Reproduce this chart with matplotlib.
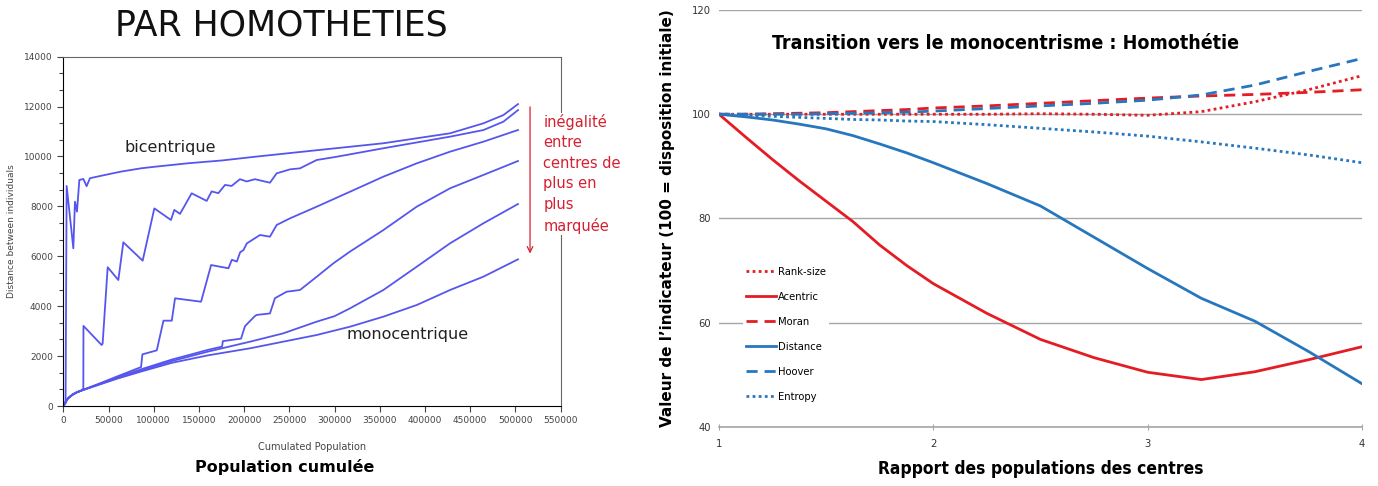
import matplotlib
matplotlib.use("Agg")
import matplotlib.pyplot as plt
from matplotlib.ticker import MultipleLocator, AutoMinorLocator

# ---- left panel: distance between individuals vs cumulated population ----
bi_x = [0, 2500, 3700, 11100, 12900, 15150, 17750, 22200, 25800, 29500, 46100, 64600,
        86700, 101400, 138300, 175200, 212000, 280000, 354000, 427800, 464700, 486800, 503000]
bi_y = [0, 100, 8820, 6320, 8190, 7790, 9060, 9100, 8810, 9130, 9260, 9400,
        9530, 9590, 9730, 9840, 9990, 10250, 10530, 10930, 11330, 11660, 12100]

b_x = [0, 2000, 5000, 10000, 15000, 20000, 22150, 22300, 42400, 43500, 49100, 60900, 66400,
       87800, 100700, 119100, 122800, 129100, 142000, 158600, 164100, 171500, 178900, 186200,
       195400, 202800, 212000, 228600, 236000, 250800, 261800, 280300, 302400, 354000,
       427800, 464700, 486800, 503000]
b_y = [0, 130, 300, 450, 550, 620, 700, 3210, 2445, 2500, 5560, 5050, 6560,
       5825, 7920, 7455, 7860, 7700, 8525, 8220, 8600, 8530, 8860, 8820,
       9090, 9000, 9090, 8950, 9325, 9485, 9525, 9860, 9990, 10330,
       10795, 11060, 11395, 11860]

c_x = [0, 2000, 5000, 10000, 15000, 20000, 40000, 60000, 86000, 87500, 103400, 110800,
       120000, 123600, 152400, 163500, 182700, 186400, 192000, 195600, 199300, 203000,
       217600, 228600, 236000, 250800, 280300, 317200, 354000, 391000, 427800, 464700, 503000]
c_y = [0, 130, 300, 450, 550, 620, 900, 1190, 1560, 2070, 2230, 3420,
       3420, 4316, 4180, 5650, 5520, 5860, 5790, 6160, 6250, 6517,
       6854, 6786, 7254, 7522, 7988, 8589, 9191, 9726, 10193, 10594, 11062]

d_x = [0, 2000, 5000, 10000, 15000, 20000, 40000, 60000, 86000, 120000, 160000, 175600,
       176500, 196600, 201000, 211800, 213900, 228600, 234100, 247000, 261800, 280300,
       298800, 317200, 354000, 391000, 427800, 464700, 503000]
d_y = [0, 130, 300, 450, 550, 620, 885, 1160, 1470, 1860, 2250, 2380,
       2600, 2700, 3200, 3600, 3650, 3710, 4320, 4580, 4650, 5180,
       5720, 6190, 7050, 7990, 8725, 9260, 9820]

e_x = [0, 2000, 5000, 10000, 15000, 20000, 40000, 60000, 86000, 120000, 160000, 206500,
       243300, 280300, 300000, 317200, 354000, 391000, 427800, 464700, 503000]
e_y = [0, 130, 300, 450, 550, 620, 870, 1130, 1420, 1800, 2180, 2577,
       2912, 3380, 3600, 3915, 4649, 5583, 6520, 7323, 8096]

f_x = [0, 2000, 5000, 10000, 15000, 20000, 40000, 60000, 86000, 120000, 160000, 206500,
       280300, 317200, 354000, 391000, 427800, 464700, 503000]
f_y = [0, 130, 300, 450, 550, 620, 860, 1100, 1380, 1730, 2030, 2312,
       2846, 3179, 3580, 4048, 4649, 5183, 5879]

left_series = [(bi_x, bi_y), (b_x, b_y), (c_x, c_y), (d_x, d_y), (e_x, e_y), (f_x, f_y)]

# ---- right panel: indicators vs ratio of centre populations ----
ratio = [1.0, 1.125, 1.25, 1.375, 1.5, 1.625, 1.75, 1.875, 2.0, 2.25, 2.5, 2.75,
         3.0, 3.25, 3.5, 3.75, 4.0]
rank_size = [100, 100, 100, 100, 100, 100, 100, 100, 100, 100, 100.1, 100,
             99.8, 100.5, 102.4, 104.7, 107.4]
acentric = [100, 95.6, 91.3, 87.2, 83.3, 79.4, 74.9, 71.0, 67.5, 61.8, 56.8, 53.3,
            50.5, 49.1, 50.6, 52.9, 55.4]
moran = [100, 100, 100.1, 100.2, 100.3, 100.5, 100.7, 100.9, 101.2, 101.6, 102.1, 102.6,
         103.1, 103.5, 103.8, 104.2, 104.7]
distance = [100, 99.5, 98.9, 98.1, 97.2, 95.9, 94.3, 92.6, 90.7, 86.7, 82.4, 76.4,
            70.4, 64.7, 60.3, 54.5, 48.3]
hoover = [100, 100, 100, 100, 100.1, 100.2, 100.3, 100.4, 100.6, 101.1, 101.6, 102.1,
          102.7, 103.7, 105.6, 108.2, 110.7]
entropy = [100, 99.8, 99.6, 99.4, 99.2, 99.0, 98.9, 98.7, 98.6, 98.0, 97.3, 96.6,
           95.8, 94.7, 93.5, 92.2, 90.7]

RED = "#e41c24"
BLUE = "#2677bd"
COND = dict(family="DejaVu Sans", stretch="condensed")

fig = plt.figure(figsize=(13.78, 4.86), dpi=100)

# left panel
ax1 = fig.add_axes([63.3 / 1378, 1 - 406 / 486, (560.5 - 63.3) / 1378, (406 - 56.7) / 486])
for xs, ys in left_series:
    ax1.plot(xs, ys, color="#5656ee", lw=1.3)
ax1.set_xlim(0, 550000)
ax1.set_ylim(0, 14000)
ax1.xaxis.set_major_locator(MultipleLocator(50000))
ax1.yaxis.set_major_locator(MultipleLocator(2000))
ax1.yaxis.set_minor_locator(AutoMinorLocator(3))
ax1.tick_params(labelsize=6.5, labelcolor="#444444", length=4, width=0.8, color="#444444")
ax1.tick_params(which="minor", length=3, width=0.8, color="#444444")
ax1.tick_params(axis="y", which="both", right=False)
for side in ["top", "right"]:
    ax1.spines[side].set_color("#666666")
ax1.set_xlabel("Cumulated Population", fontsize=7, color="#444444", labelpad=12)
ax1.set_ylabel("Distance between individuals", fontsize=6.5, color="#444444", labelpad=6)
ax1.text(68000, 10380, "bicentrique", fontsize=11.5, color="#222222", va="center")
ax1.text(313000, 2850, "monocentrique", fontsize=11.5, color="#222222", va="center")
ax1.annotate("", xy=(516300, 6000), xytext=(516300, 12100),
             arrowprops=dict(arrowstyle="->", color="#d42030", lw=0.9),
             annotation_clip=False)
ax1.text(530900, 11700, "inégalité\nentre\ncentres de\nplus en\nplus\nmarquée",
         fontsize=10.5, color="#d42030", va="top", ha="left", linespacing=1.45,
         clip_on=False, zorder=5,
         bbox=dict(facecolor="white", edgecolor="none", pad=1))

fig.text(281 / 1378, 1 - 25 / 486, "PAR HOMOTHETIES", fontsize=25,
         ha="center", va="center", color="#111111")
fig.text(285 / 1378, 1 - 467 / 486, "Population cumulée", fontsize=11.5,
         fontweight="bold", ha="center", va="center")

# right panel
ax2 = fig.add_axes([719 / 1378, 1 - 427 / 486, (1362 - 719) / 1378, (427 - 10) / 486])
ax2.plot(ratio, rank_size, color=RED, lw=2, ls=(0, (1, 1.2)), label="Rank-size")
ax2.plot(ratio, acentric, color=RED, lw=2, label="Acentric")
ax2.plot(ratio, moran, color=RED, lw=2, ls=(0, (4, 2.5)), label="Moran")
ax2.plot(ratio, distance, color=BLUE, lw=2, label="Distance")
ax2.plot(ratio, hoover, color=BLUE, lw=2, ls=(0, (4, 2.5)), label="Hoover")
ax2.plot(ratio, entropy, color=BLUE, lw=2, ls=(0, (1, 1.2)), label="Entropy")
ax2.set_xlim(1, 4)
ax2.set_ylim(40, 120)
ax2.set_xticks([1, 2, 3, 4])
ax2.set_yticks([40, 60, 80, 100, 120])
ax2.grid(axis="y", color="#a6a6a6", lw=1)
ax2.set_axisbelow(True)
for side in ["top", "right", "left"]:
    ax2.spines[side].set_visible(False)
ax2.spines["bottom"].set_color("#a6a6a6")
ax2.spines["bottom"].set_linewidth(1.2)
ax2.tick_params(axis="y", length=0, pad=6)
ax2.tick_params(axis="x", direction="inout", length=5, color="#a6a6a6", pad=6)
for lab in ax2.get_xticklabels() + ax2.get_yticklabels():
    lab.set_family("DejaVu Sans")
    lab.set_stretch("condensed")
    lab.set_fontsize(8)
    lab.set_color("#333333")

ax2.text(0.446, 0.92, "Transition vers le monocentrisme : Homothétie",
         transform=ax2.transAxes, fontsize=14, fontweight="bold",
         ha="center", va="center", **COND)
ax2.set_ylabel("Valeur de l’indicateur (100 = disposition initiale)",
               fontsize=11, fontweight="bold", labelpad=12)
ax2.set_xlabel("Rapport des populations des centres", fontsize=12.5,
               fontweight="bold", labelpad=8, **COND)

leg = ax2.legend(loc="upper left", bbox_to_anchor=(0.028, 0.405), frameon=True,
                 facecolor="white", edgecolor="none", framealpha=1, fancybox=False,
                 prop=dict(size=8, **COND), handlelength=2.7,
                 handletextpad=0.15, labelspacing=1.35, borderpad=0.3)

fig.savefig("out.png", dpi=100)
